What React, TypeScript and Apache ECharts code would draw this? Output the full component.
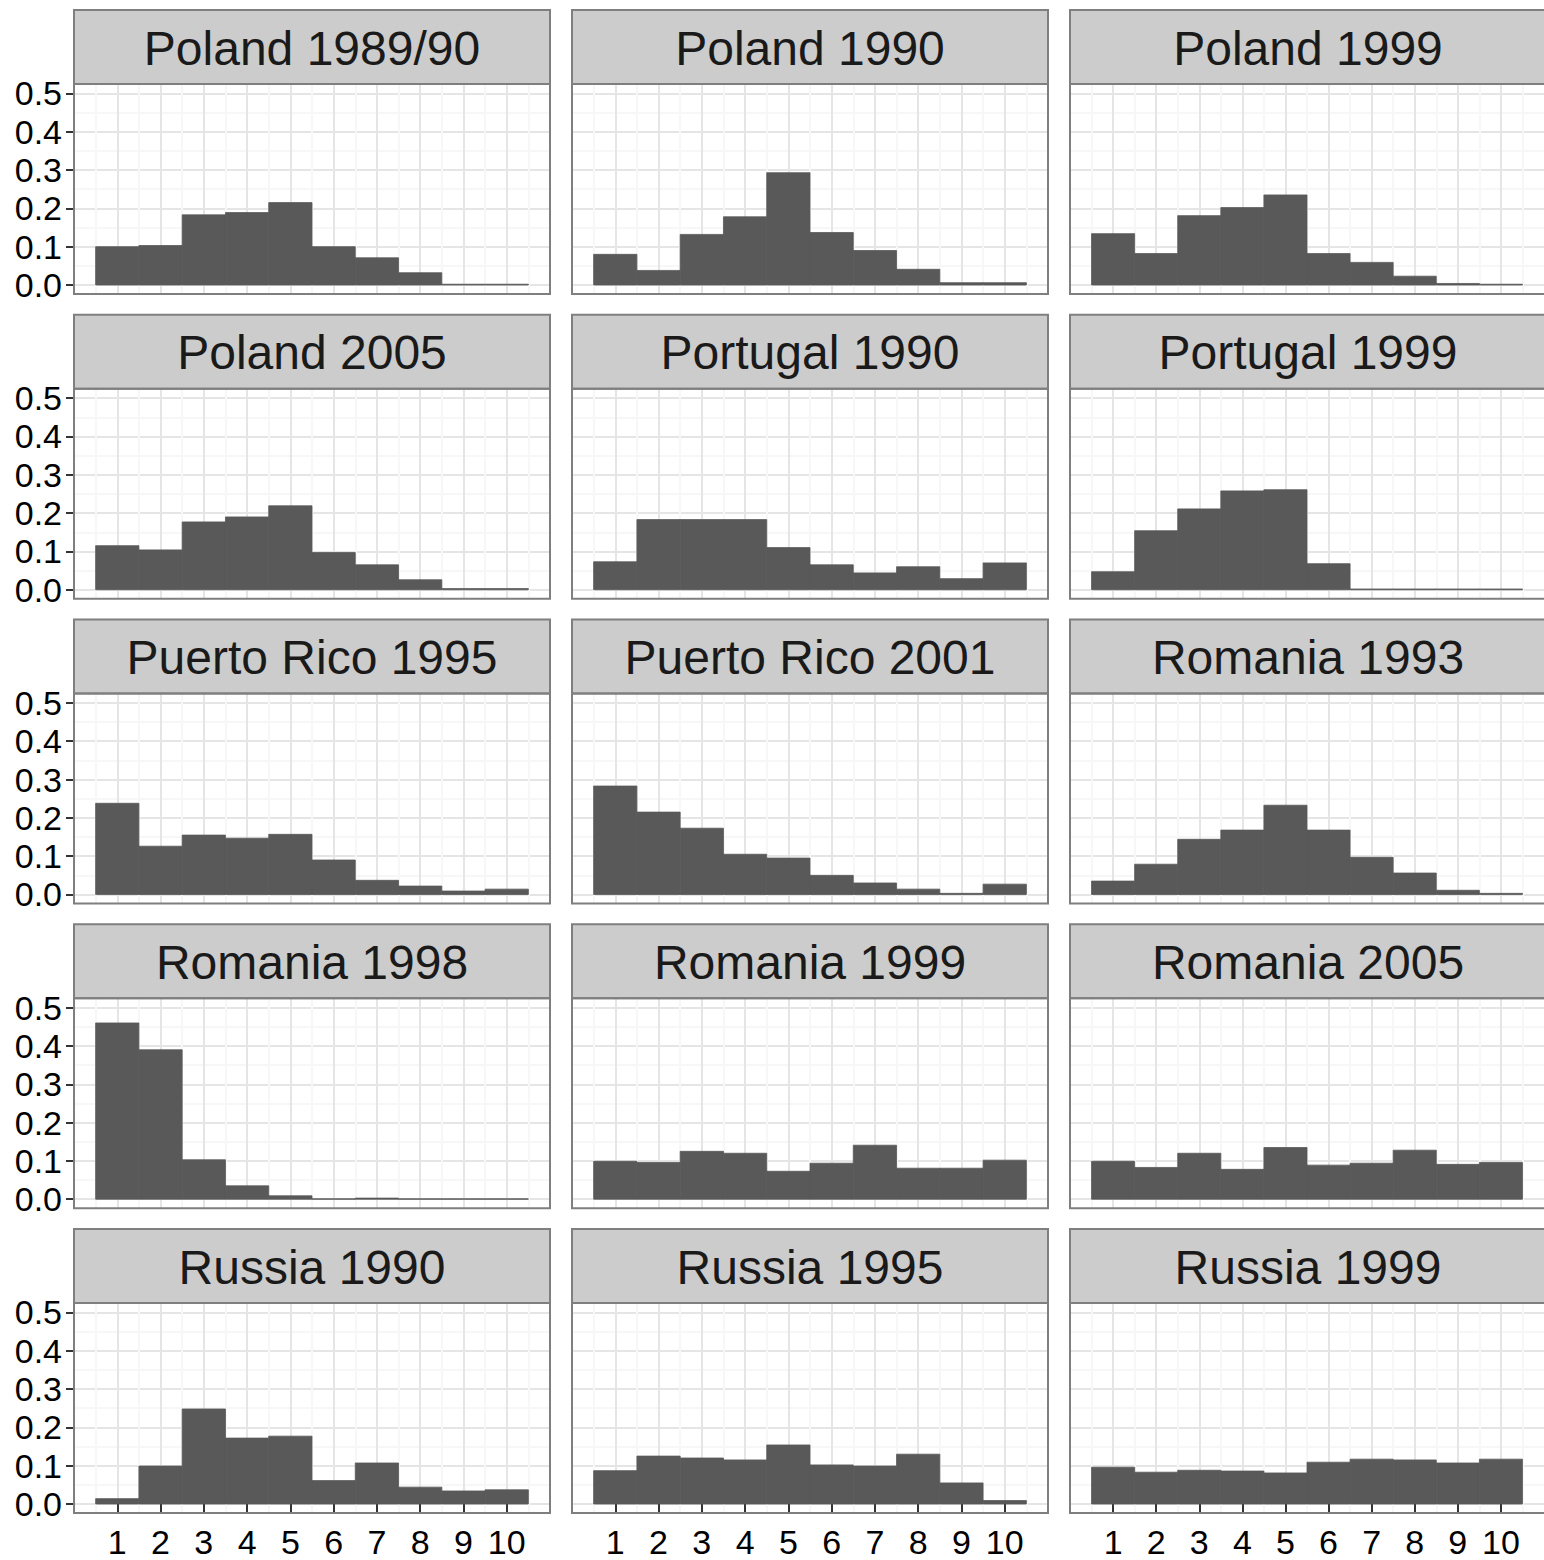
import React, { useEffect, useRef } from 'react';
import * as echarts from 'echarts';

const panelTitles = [
  'Poland 1989/90', 'Poland 1990', 'Poland 1999',
  'Poland 2005', 'Portugal 1990', 'Portugal 1999',
  'Puerto Rico 1995', 'Puerto Rico 2001', 'Romania 1993',
  'Romania 1998', 'Romania 1999', 'Romania 2005',
  'Russia 1990', 'Russia 1995', 'Russia 1999',
];

const xTicks = [1, 2, 3, 4, 5, 6, 7, 8, 9, 10];
const yTicks = [0, 0.1, 0.2, 0.3, 0.4, 0.5];

const poland1989_90 = [0.100, 0.103, 0.183, 0.189, 0.215, 0.100, 0.071, 0.032, 0.002, 0.002];
const poland1990 = [0.080, 0.038, 0.132, 0.178, 0.293, 0.137, 0.090, 0.041, 0.006, 0.006];
const poland1999 = [0.134, 0.082, 0.181, 0.202, 0.235, 0.082, 0.059, 0.023, 0.004, 0.002];
const poland2005 = [0.115, 0.104, 0.177, 0.190, 0.219, 0.097, 0.065, 0.026, 0.003, 0.003];
const portugal1990 = [0.073, 0.183, 0.183, 0.183, 0.110, 0.065, 0.044, 0.060, 0.029, 0.070];
const portugal1999 = [0.047, 0.154, 0.211, 0.258, 0.261, 0.068, 0.002, 0.002, 0.002, 0.002];
const puertoRico1995 = [0.238, 0.126, 0.155, 0.147, 0.157, 0.090, 0.037, 0.022, 0.009, 0.014];
const puertoRico2001 = [0.283, 0.215, 0.173, 0.105, 0.095, 0.050, 0.030, 0.014, 0.003, 0.027];
const romania1993 = [0.035, 0.079, 0.144, 0.168, 0.233, 0.168, 0.097, 0.056, 0.011, 0.003];
const romania1998 = [0.460, 0.390, 0.103, 0.035, 0.009, 0.001, 0.003, 0.001, 0.001, 0.001];
const romania1999 = [0.099, 0.096, 0.125, 0.120, 0.073, 0.094, 0.141, 0.081, 0.081, 0.102];
const romania2005 = [0.099, 0.083, 0.120, 0.078, 0.135, 0.089, 0.094, 0.128, 0.091, 0.096];
const russia1990 = [0.014, 0.099, 0.248, 0.172, 0.177, 0.061, 0.107, 0.044, 0.034, 0.037];
const russia1995 = [0.087, 0.125, 0.120, 0.115, 0.154, 0.102, 0.099, 0.130, 0.055, 0.009];
const russia1999 = [0.096, 0.083, 0.088, 0.086, 0.081, 0.109, 0.117, 0.115, 0.107, 0.117];

const panelValues = [
  poland1989_90, poland1990, poland1999,
  poland2005, portugal1990, portugal1999,
  puertoRico1995, puertoRico2001, romania1993,
  romania1998, romania1999, romania2005,
  russia1990, russia1995, russia1999,
];

const CHART_W = 1544;
const CHART_H = 1560;
const COL_LEFT = [74, 572, 1070];
const PANEL_W = 476;
const ROW_TOP0 = 10;
const ROW_PITCH = 304.75;
const STRIP_H = 74;
const PANEL_H = 210;
const Y_MIN = -0.0235;
const Y_MAX = 0.5245;
const FONT = '"Liberation Sans", Arial, Helvetica, sans-serif';
const BORDER = '#7f7f7f';
const BAR = '#595959';

export default function App() {
  const ref = useRef<HTMLDivElement>(null);

  useEffect(() => {
    document.body.style.margin = '0';
    const chart = echarts.init(ref.current!, null, { renderer: 'svg' });
    const grids: any[] = [];
    const xAxes: any[] = [];
    const yAxes: any[] = [];
    const series: any[] = [];
    const graphics: any[] = [];

    panelTitles.forEach((title, i) => {
      const r = Math.floor(i / 3);
      const c = i % 3;
      const stripTop = ROW_TOP0 + r * ROW_PITCH;
      const top = stripTop + STRIP_H;
      const left = COL_LEFT[c];
      const isBottom = r === 4;
      const isLeft = c === 0;

      grids.push({
        left, top, width: PANEL_W, height: PANEL_H,
        show: true, backgroundColor: '#ffffff', borderWidth: 0,
      });

      xAxes.push({
        type: 'value', gridIndex: i, min: 0, max: 11, interval: 1,
        axisLine: { show: false },
        axisTick: {
          show: isBottom, length: 8, customValues: xTicks,
          lineStyle: { color: '#333333', width: 2 },
        },
        axisLabel: {
          show: isBottom, customValues: xTicks, margin: 12,
          fontSize: 34, lineHeight: 34, color: '#000000', fontFamily: FONT,
        },
        splitLine: { show: true, lineStyle: { color: '#e5e5e5', width: 2 } },
        minorTick: { show: false, splitNumber: 2 },
        minorSplitLine: { show: true, lineStyle: { color: '#f7f7f7', width: 2 } },
      });

      yAxes.push({
        type: 'value', gridIndex: i, min: Y_MIN, max: Y_MAX,
        minInterval: 0.1, maxInterval: 0.1,
        axisLine: { show: false },
        axisTick: {
          show: isLeft, length: 8, customValues: yTicks,
          lineStyle: { color: '#333333', width: 2 },
        },
        axisLabel: {
          show: isLeft, customValues: yTicks, margin: 12,
          fontSize: 34, color: '#000000', fontFamily: FONT,
          formatter: (v: number) => v.toFixed(1),
        },
        splitLine: { show: true, lineStyle: { color: '#e5e5e5', width: 2 } },
        minorTick: { show: false, splitNumber: 2 },
        minorSplitLine: { show: true, lineStyle: { color: '#f7f7f7', width: 2 } },
      });

      series.push({
        type: 'custom', xAxisIndex: i, yAxisIndex: i,
        data: panelValues[i].map((v, k) => [xTicks[k], v]),
        encode: { x: 0, y: 1 },
        renderItem: (params: any, api: any) => {
          const x = api.value(0);
          const y = api.value(1);
          const p0 = api.coord([x - 0.5, y]);
          const p1 = api.coord([x + 0.5, 0]);
          return {
            type: 'rect',
            shape: { x: p0[0], y: p0[1], width: p1[0] - p0[0], height: p1[1] - p0[1] },
            style: { fill: BAR, stroke: BAR, lineWidth: 0.8 },
          };
        },
        z: 3,
      });

      // strip
      graphics.push({
        type: 'rect', z: 100,
        shape: { x: left, y: stripTop, width: PANEL_W, height: STRIP_H },
        style: { fill: '#cccccc', stroke: BORDER, lineWidth: 2 },
      });
      graphics.push({
        type: 'text', z: 101,
        x: left + PANEL_W / 2, y: stripTop + STRIP_H / 2 + 1,
        style: {
          text: title, fill: '#1a1a1a', fontSize: 48, fontFamily: FONT,
          align: 'center', verticalAlign: 'middle',
        },
      });
      // panel border
      graphics.push({
        type: 'rect', z: 100,
        shape: { x: left, y: top, width: PANEL_W, height: PANEL_H },
        style: { fill: 'none', stroke: BORDER, lineWidth: 2 },
      });
    });

    chart.setOption({
      animation: false,
      backgroundColor: '#ffffff',
      grid: grids,
      xAxis: xAxes,
      yAxis: yAxes,
      series,
      graphic: { elements: graphics },
    });

    return () => chart.dispose();
  }, []);

  return <div ref={ref} style={{ width: CHART_W, height: CHART_H }} />;
}
